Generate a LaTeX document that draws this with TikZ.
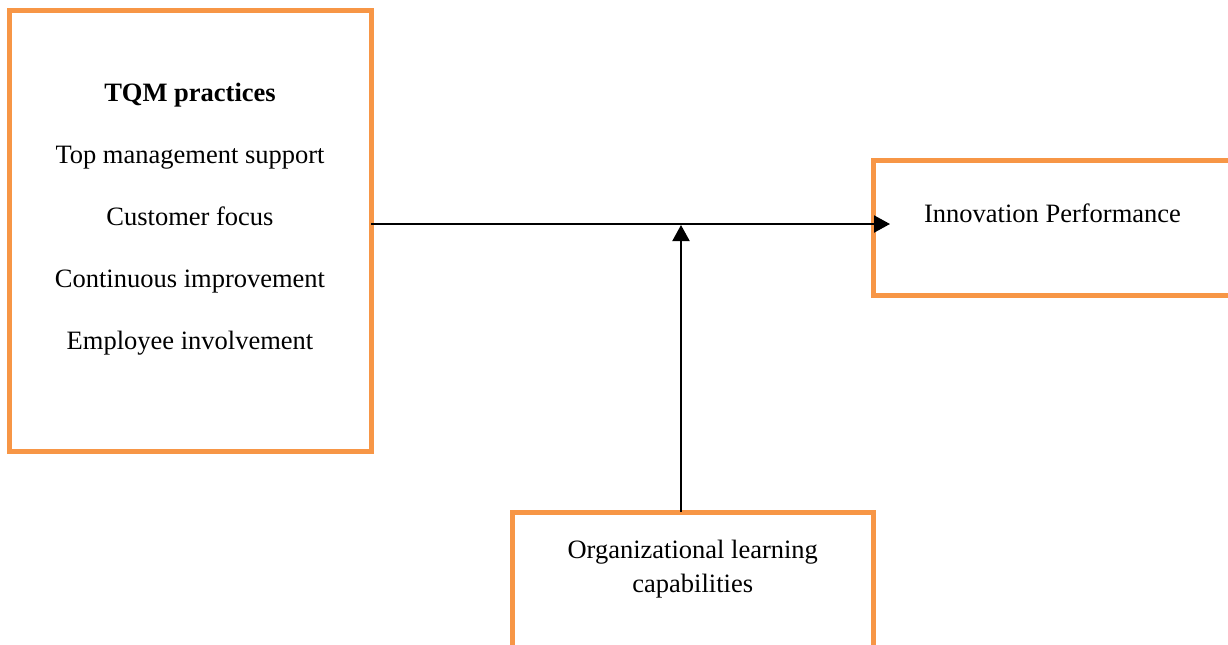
\documentclass[tikz,border=0pt]{standalone}
\usepackage{fontspec}
\setmainfont{Liberation Serif}
\usetikzlibrary{arrows.meta,positioning}
\definecolor{BoxOrange}{HTML}{F79646}
\tikzset{
  cbox/.style={draw=BoxOrange, line width=2.5pt, rectangle, inner sep=0pt, outer sep=0pt},
  ctext/.style={align=center, font=\fontsize{13.25}{17}\selectfont, inner sep=0pt},
  carr/.style={-{Triangle[length=8pt, width=8.5pt]}, line width=1pt, black}
}

\begin{document}
\begin{tikzpicture}[x=0.5pt, y=-0.5pt]
\useasboundingbox (0,0) rectangle (1228,644);
\clip (0,0) rectangle (1228,644);
\node[cbox, minimum width=181pt, minimum height=220.5pt] (tqm) at (190,231) {};
\node[ctext, font=\fontsize{13.25}{31}\selectfont] (tqmtext) at (190,219.5) {\textbf{TQM practices}\\Top management support\\Customer focus\\Continuous improvement\\Employee involvement};
\node[cbox, minimum width=179.5pt, minimum height=67.75pt] (perf) at (1052.5,227.75) {};
\node[ctext] (perftext) at (1052.5,213) {Innovation Performance};
\node[cbox, minimum width=180.25pt, minimum height=94pt] (olc) at (692.75,606) {};
\node[ctext] (olctext) at (692.75,569) {Organizational learning\\capabilities};
\coordinate (tip) at (890,224);
\coordinate (join) at (681,225);
\draw[carr] (tqm.east |- tip) -- (tip);
\draw[carr] (olc.north -| join) -- (join);
\end{tikzpicture}
\end{document}
